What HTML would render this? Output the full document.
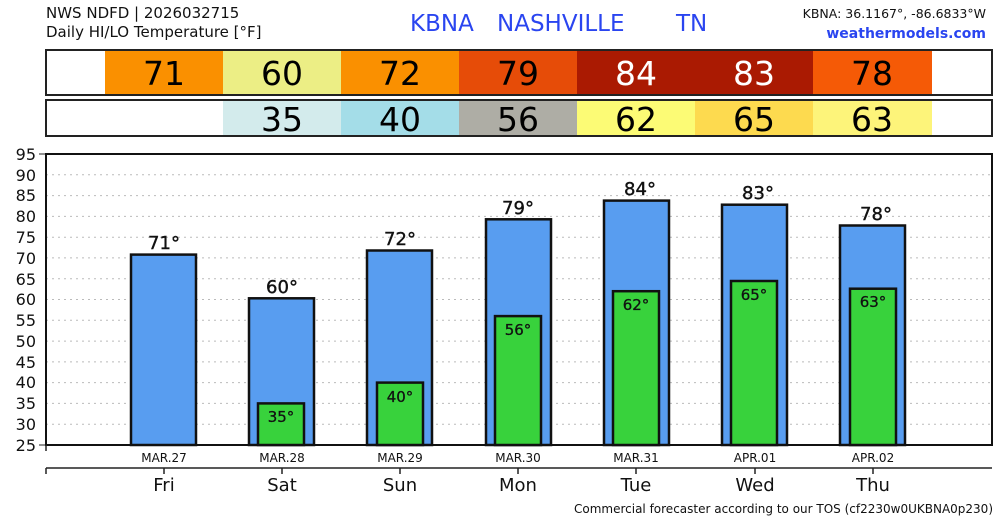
<!DOCTYPE html><html><head><meta charset="utf-8"><style>body{margin:0;background:#fff}svg{display:block;font-family:"DejaVu Sans","Liberation Sans",sans-serif}</style></head><body>
<svg width="1000" height="520" viewBox="0 0 1000 520" xmlns="http://www.w3.org/2000/svg">
<text x="46" y="18" font-size="15" fill="#111">NWS NDFD | 2026032715</text>
<text x="46" y="37" font-size="15" fill="#111">Daily HI/LO Temperature [°F]</text>
<text x="410" y="31" font-size="23" fill="#2a45f0">KBNA</text>
<text x="497" y="31" font-size="23" fill="#2a45f0">NASHVILLE</text>
<text x="676" y="31" font-size="23" fill="#2a45f0">TN</text>
<text x="986" y="18" font-size="12.5" fill="#111" text-anchor="end">KBNA: 36.1167°, -86.6833°W</text>
<text x="986" y="38" font-size="14" fill="#2a45f0" text-anchor="end" font-weight="bold">weathermodels.com</text>
<g font-size="33" text-anchor="middle" fill="#000">
<rect x="105" y="50" width="118" height="45" fill="#fa9000"/><text x="164" y="85">71</text>
<rect x="223" y="50" width="118" height="45" fill="#ecee85"/><text x="282" y="85">60</text>
<rect x="341" y="50" width="118" height="45" fill="#fa9000"/><text x="400" y="85">72</text>
<rect x="459" y="50" width="118" height="45" fill="#e64c08"/><text x="518" y="85">79</text>
<rect x="577" y="50" width="118" height="45" fill="#aa1a02"/><text x="636" y="85" fill="#fff">84</text>
<rect x="695" y="50" width="118" height="45" fill="#aa1a02"/><text x="754" y="85" fill="#fff">83</text>
<rect x="813" y="50" width="119" height="45" fill="#f55a06"/><text x="872" y="85">78</text>
<rect x="46" y="50" width="946" height="45" fill="none" stroke="#222" stroke-width="2"/>
<rect x="223" y="100" width="118" height="36" fill="#d3ebec"/><text x="282" y="131">35</text>
<rect x="341" y="100" width="118" height="36" fill="#a4dde8"/><text x="400" y="131">40</text>
<rect x="459" y="100" width="118" height="36" fill="#aeada5"/><text x="518" y="131">56</text>
<rect x="577" y="100" width="118" height="36" fill="#fcfb75"/><text x="636" y="131">62</text>
<rect x="695" y="100" width="118" height="36" fill="#fdda4f"/><text x="754" y="131">65</text>
<rect x="813" y="100" width="119" height="36" fill="#fdf47a"/><text x="872" y="131">63</text>
<rect x="46" y="100" width="946" height="36" fill="none" stroke="#222" stroke-width="2"/>
</g>
<g stroke="#bbb" stroke-dasharray="2,4" stroke-width="1">
<line x1="46" x2="992" y1="174.8" y2="174.8"/><line x1="46" x2="992" y1="195.6" y2="195.6"/><line x1="46" x2="992" y1="216.4" y2="216.4"/><line x1="46" x2="992" y1="237.2" y2="237.2"/><line x1="46" x2="992" y1="257.9" y2="257.9"/><line x1="46" x2="992" y1="278.7" y2="278.7"/><line x1="46" x2="992" y1="299.5" y2="299.5"/><line x1="46" x2="992" y1="320.3" y2="320.3"/><line x1="46" x2="992" y1="341.1" y2="341.1"/><line x1="46" x2="992" y1="361.9" y2="361.9"/><line x1="46" x2="992" y1="382.6" y2="382.6"/><line x1="46" x2="992" y1="403.4" y2="403.4"/><line x1="46" x2="992" y1="424.2" y2="424.2"/>
</g>
<g font-size="16" text-anchor="end" fill="#111">
<text x="36" y="160">95</text><text x="36" y="181">90</text><text x="36" y="201">85</text><text x="36" y="222">80</text><text x="36" y="243">75</text><text x="36" y="264">70</text><text x="36" y="285">65</text><text x="36" y="305">60</text><text x="36" y="326">55</text><text x="36" y="347">50</text><text x="36" y="368">45</text><text x="36" y="388">40</text><text x="36" y="409">35</text><text x="36" y="430">30</text><text x="36" y="451">25</text>
</g>
<g stroke="#222" stroke-width="1"><line x1="39" x2="46" y1="154" y2="154"/><line x1="39" x2="46" y1="445" y2="445"/></g>
<g stroke="#111" stroke-width="2.5" fill="#589df0">
<rect x="131" y="254.6" width="65" height="190.4"/>
<rect x="249" y="298.3" width="65" height="146.7"/>
<rect x="367" y="250.5" width="65" height="194.5"/>
<rect x="486" y="219.3" width="65" height="225.7"/>
<rect x="604" y="200.6" width="65" height="244.4"/>
<rect x="722" y="204.7" width="65" height="240.3"/>
<rect x="840" y="225.5" width="65" height="219.5"/>
</g>
<g stroke="#111" stroke-width="2.5" fill="#38d23c">
<rect x="258" y="403.4" width="46" height="41.6"/>
<rect x="377" y="382.6" width="46" height="62.4"/>
<rect x="495" y="316.1" width="46" height="128.9"/>
<rect x="613" y="291.2" width="46" height="153.8"/>
<rect x="731" y="281.0" width="46" height="164"/>
<rect x="850" y="288.7" width="46" height="156.3"/>
</g>
<g font-size="18" text-anchor="middle" fill="#111" stroke="#111" stroke-width="0.4">
<text x="164" y="249">71°</text><text x="282" y="293">60°</text><text x="400" y="245">72°</text><text x="518" y="214">79°</text><text x="640" y="195">84°</text><text x="758" y="199">83°</text><text x="876" y="220">78°</text>
</g>
<g font-size="15" text-anchor="middle" fill="#111" stroke="#111" stroke-width="0.3">
<text x="281" y="422">35°</text><text x="400" y="402">40°</text><text x="518" y="335">56°</text><text x="636" y="310">62°</text><text x="754" y="300">65°</text><text x="873" y="307">63°</text>
</g>
<rect x="46" y="154" width="946" height="291" fill="none" stroke="#111" stroke-width="2"/>
<g stroke="#222" stroke-width="1.5">
<line x1="46" x2="46" y1="445" y2="451"/>
<line x1="46" x2="992" y1="468" y2="468"/><line x1="46" x2="46" y1="468" y2="474"/>
<line x1="164" x2="164" y1="468" y2="474"/><line x1="282" x2="282" y1="468" y2="474"/><line x1="400" x2="400" y1="468" y2="474"/><line x1="518" x2="518" y1="468" y2="474"/><line x1="636" x2="636" y1="468" y2="474"/><line x1="755" x2="755" y1="468" y2="474"/><line x1="873" x2="873" y1="468" y2="474"/>
</g>
<g font-size="12" text-anchor="middle" fill="#111">
<text x="164" y="462">MAR.27</text><text x="282" y="462">MAR.28</text><text x="400" y="462">MAR.29</text><text x="518" y="462">MAR.30</text><text x="636" y="462">MAR.31</text><text x="755" y="462">APR.01</text><text x="873" y="462">APR.02</text>
</g>
<g font-size="18" text-anchor="middle" fill="#111">
<text x="164" y="491">Fri</text><text x="282" y="491">Sat</text><text x="400" y="491">Sun</text><text x="518" y="491">Mon</text><text x="636" y="491">Tue</text><text x="755" y="491">Wed</text><text x="873" y="491">Thu</text>
</g>
<text x="993" y="513" font-size="12" text-anchor="end" fill="#111">Commercial forecaster according to our TOS (cf2230w0UKBNA0p230)</text>
</svg></body></html>
